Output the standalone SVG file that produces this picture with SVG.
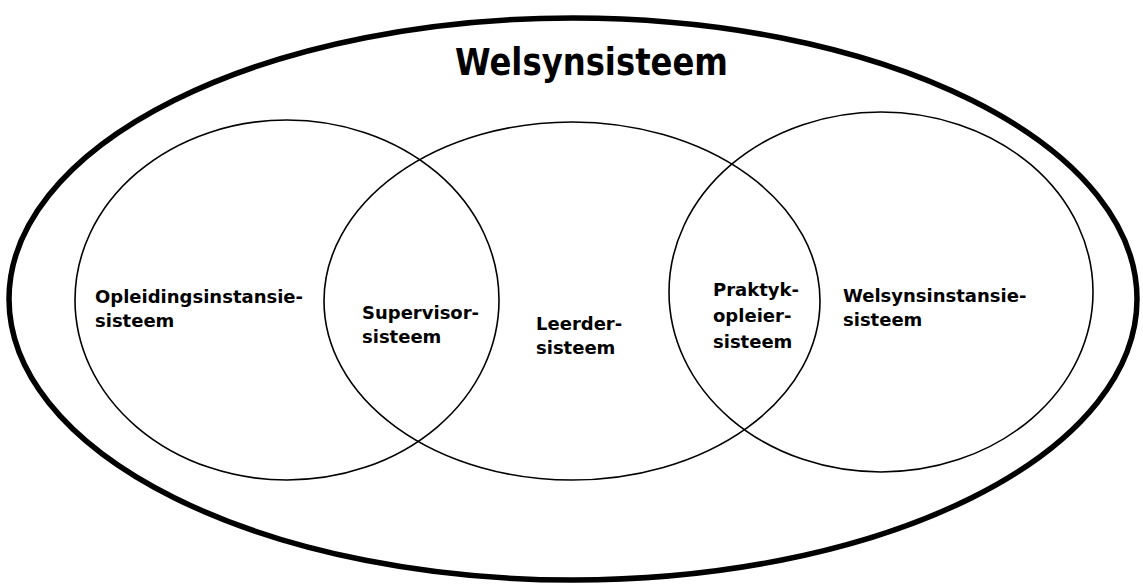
<svg xmlns="http://www.w3.org/2000/svg" width="1143" height="585" viewBox="0 0 1143 585">
<style>
.ring{fill:none;stroke:#000;stroke-width:1.6}
.outer{fill:none;stroke:#000;stroke-width:5.5}
.lbl{font-family:"DejaVu Sans","Liberation Sans",sans-serif;font-weight:bold;font-size:18px;fill:#000}
.title{font-family:"DejaVu Sans","Liberation Sans",sans-serif;font-weight:bold;font-size:37px;fill:#000}
</style>
<rect width="1143" height="585" fill="#fff"/>
<g id="welsynsisteem">
<ellipse class="outer" cx="573" cy="299" rx="564" ry="281"/>
<text class="title" x="455" y="75" textLength="273" lengthAdjust="spacingAndGlyphs">Welsynsisteem</text>
</g>
<g id="opleidingsinstansiesisteem">
<ellipse class="ring" cx="287" cy="300" rx="212" ry="180"/>
<text class="lbl" x="95" y="303">Opleidingsinstansie-</text>
<text class="lbl" x="95" y="327">sisteem</text>
</g>
<g id="leerdersisteem">
<ellipse class="ring" cx="572" cy="301" rx="248" ry="179"/>
<text class="lbl" x="536" y="330">Leerder-</text>
<text class="lbl" x="536" y="354">sisteem</text>
</g>
<g id="welsynsinstansiesisteem">
<ellipse class="ring" cx="881" cy="292" rx="212" ry="180"/>
<text class="lbl" x="843" y="302">Welsynsinstansie-</text>
<text class="lbl" x="843" y="326">sisteem</text>
</g>
<g id="supervisorsisteem">
<text class="lbl" x="362" y="319">Supervisor-</text>
<text class="lbl" x="362" y="343">sisteem</text>
</g>
<g id="praktykopleiersisteem">
<text class="lbl" x="713" y="296">Praktyk-</text>
<text class="lbl" x="713" y="322">opleier-</text>
<text class="lbl" x="713" y="348">sisteem</text>
</g>
<g id="connectors"/>
</svg>
